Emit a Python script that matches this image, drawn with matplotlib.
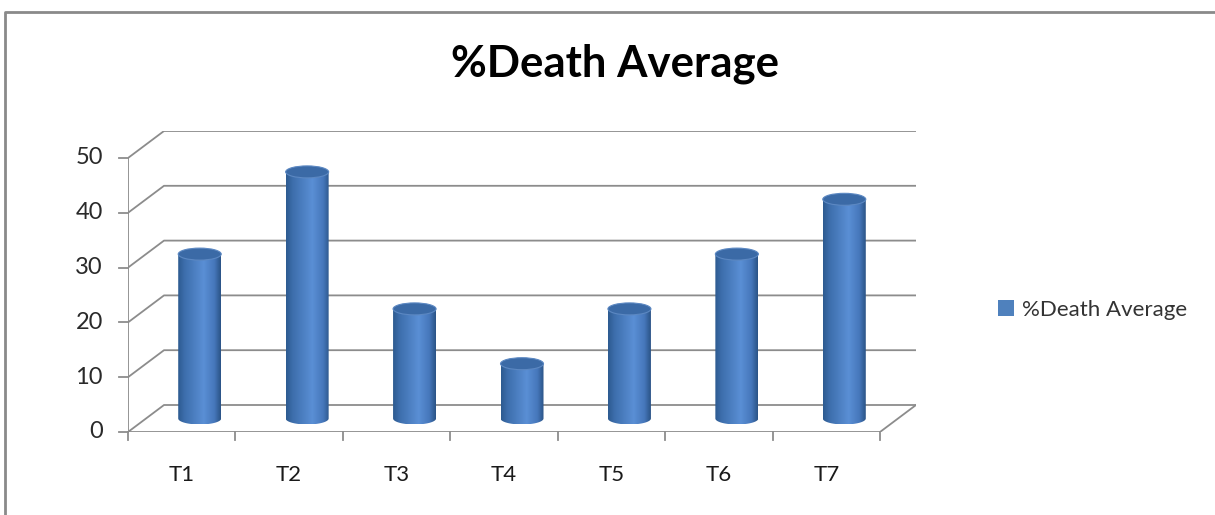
import numpy as np
import matplotlib
matplotlib.use('Agg')
import matplotlib.pyplot as plt
from matplotlib.patches import Ellipse, PathPatch, Rectangle
from matplotlib.path import Path
from matplotlib.lines import Line2D
from matplotlib.colors import LinearSegmentedColormap

categories = ['T1', 'T2', 'T3', 'T4', 'T5', 'T6', 'T7']
values = [30, 45, 20, 10, 20, 30, 40]
yticks = [0, 10, 20, 30, 40, 50]
series_name = '%Death Average'

plt.rcParams['font.family'] = ['Lato', 'DejaVu Sans']

W, H = 1215, 515
fig = plt.figure(figsize=(W / 100, H / 100), dpi=100)

# front plane in pixels, plus the depth offset of the back wall
x0, x1 = 128, 880
y0, y1 = 432, 158
ddx, ddy = 36, 27

n = len(categories)
ymax = yticks[-1]
ux = (x1 - x0) / n
uy = (y0 - y1) / ymax
dxu = ddx / ux
dyu = ddy / uy

ax = fig.add_axes([x0 / W, (H - y0) / H, (x1 + ddx - x0) / W, (y0 - y1 + ddy) / H])
ax.axis('off')

grid = '#8c8c8c'
lw = 1.3

# back wall gridlines with the left wall diagonals
for t in yticks:
    ax.plot([-0.5, -0.5 + dxu, n - 0.5 + dxu], [t, t + dyu, t + dyu],
            color=grid, lw=lw, solid_capstyle='butt', zorder=1)
    ax.plot([-0.5 - 9 / ux, -0.5], [t, t], color=grid, lw=lw, clip_on=False, zorder=1)
    ax.text(-0.5 - 25 / ux, t, str(t), ha='right', va='center', fontsize=17, color='#2a2a2a')

# y axis and floor
ax.plot([-0.5, -0.5], [0, ymax], color=grid, lw=lw, zorder=1)
ax.plot([-0.5, n - 0.5, n - 0.5 + dxu], [0, 0, dyu], color=grid, lw=lw, zorder=1)
for b in np.arange(n + 1) - 0.5:
    ax.plot([b, b], [0, -8 / uy], color=grid, lw=lw, clip_on=False, zorder=1)

for i, c in enumerate(categories):
    ax.text(i, -43 / uy, c, ha='center', va='center', fontsize=16, color='#1a1a1a')

# cylinders
body_cmap = LinearSegmentedColormap.from_list('cyl', [
    (0.0, '#2d5a90'), (0.15, '#3d6eac'), (0.6, '#5a8fd5'),
    (0.85, '#4677bb'), (1.0, '#2b5487')])
grad = np.linspace(0, 1, 200).reshape(1, -1)
w = 21.5 / ux
eh = 12 / uy
for i, v in enumerate(values):
    cx = i + dxu / 2
    base = dyu / 2
    top = v + dyu / 2
    th = np.linspace(np.pi, 2 * np.pi, 40)
    verts = [(cx - w, top), (cx - w, base)]
    verts += list(zip(cx + w * np.cos(th), base + eh / 2 * np.sin(th)))
    verts += [(cx + w, top), (cx - w, top)]
    codes = [Path.MOVETO] + [Path.LINETO] * (len(verts) - 2) + [Path.CLOSEPOLY]
    clip = PathPatch(Path(verts, codes), facecolor='none', edgecolor='none')
    ax.add_patch(clip)
    im = ax.imshow(grad, cmap=body_cmap, aspect='auto', zorder=3,
                   extent=[cx - w, cx + w, base - eh / 2, top])
    im.set_clip_path(clip)
    ax.add_patch(Ellipse((cx, top), 2 * w, eh, facecolor='#3b6aa6',
                         edgecolor='#5c88c2', lw=0.8, zorder=4))

ax.set_xlim(-0.5, n - 0.5 + dxu)
ax.set_ylim(0, ymax + dyu)

fig.text(615 / W, 1 - 64 / H, series_name, ha='center', va='center',
         fontsize=31.5, fontweight='bold', color='black')

handle = Rectangle((0, 0), 1, 1, facecolor='#4f81bd', edgecolor='none')
fig.legend([handle], [series_name], loc='center left',
           bbox_to_anchor=(978 / W, 1 - 310 / H), frameon=False,
           fontsize=16, handlelength=0.7, handleheight=0.7, handletextpad=0.4,
           labelcolor='#333333')

fig.add_artist(Line2D([5 / W, 5 / W, 1], [0, 1 - 12 / H, 1 - 12 / H],
                      transform=fig.transFigure, color='#8a8a8a', lw=2))

fig.savefig('out.png', dpi=100)
